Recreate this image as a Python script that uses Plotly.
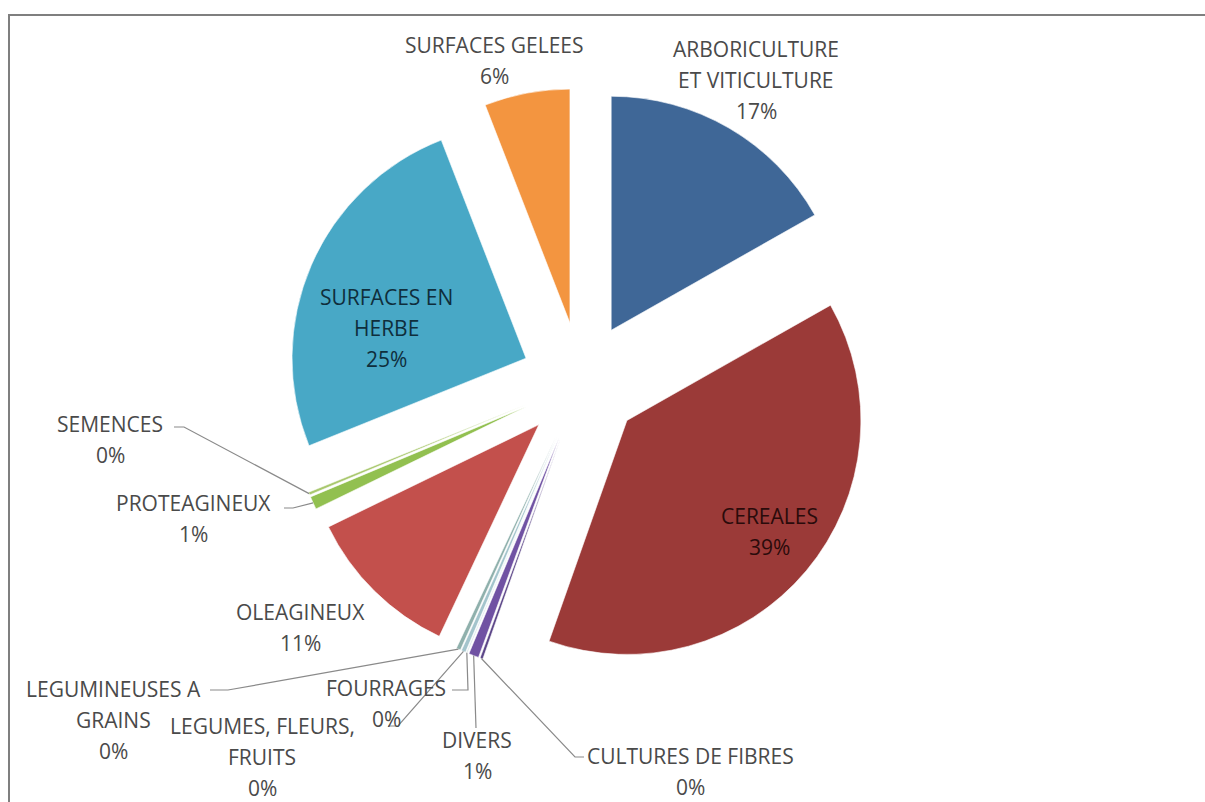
import math
import plotly.graph_objects as go

# ---- data (clockwise from 12 o'clock) ----
categories = [
    "ARBORICULTURE ET VITICULTURE", "CEREALES", "CULTURES DE FIBRES", "DIVERS",
    "FOURRAGES", "LEGUMES, FLEURS, FRUITS", "LEGUMINEUSES A GRAINS", "OLEAGINEUX",
    "PROTEAGINEUX", "SEMENCES", "SURFACES EN HERBE", "SURFACES GELEES",
]
values = [16.8, 38.6, 0.2, 0.7, 0.1, 0.3, 0.3, 10.8, 0.9, 0.2, 25.2, 5.9]
label_lines = {
    "ARBORICULTURE ET VITICULTURE": ["ARBORICULTURE", "ET VITICULTURE"],
    "CEREALES": ["CEREALES"],
    "CULTURES DE FIBRES": ["CULTURES DE FIBRES"],
    "DIVERS": ["DIVERS"],
    "FOURRAGES": ["FOURRAGES"],
    "LEGUMES, FLEURS, FRUITS": ["LEGUMES, FLEURS,", "FRUITS"],
    "LEGUMINEUSES A GRAINS": ["LEGUMINEUSES A", "GRAINS"],
    "OLEAGINEUX": ["OLEAGINEUX"],
    "PROTEAGINEUX": ["PROTEAGINEUX"],
    "SEMENCES": ["SEMENCES"],
    "SURFACES EN HERBE": ["SURFACES EN", "HERBE"],
    "SURFACES GELEES": ["SURFACES GELEES"],
}
colors = ["#3f6797", "#9b3a38", "#5c4688", "#7052a3", "#dbe8ec", "#a3c4cc",
          "#8fb0ac", "#c3504c", "#92c050", "#a9c86e", "#48a8c6", "#f39540"]

# ---- layout constants (pixels) ----
W, H = 1205, 802
CX, CY = 581, 382          # pie centre
R = 234                    # pie radius
PULL = 0.256               # explode fraction
BOX = R * (1 + PULL)       # half size of pie domain
LINE_GAP = 31
FONT = "Open Sans"
FSIZE = 21
GREY = "#4a4a4a"

# label placement: (x centre, y of first line, text colour)
label_pos = {
    "SURFACES GELEES": (494, 45, GREY),
    "ARBORICULTURE ET VITICULTURE": (756, 49, GREY),
    "SURFACES EN HERBE": (386, 297, "#0f2e3c"),
    "CEREALES": (770, 516, "#2a0b0b"),
    "SEMENCES": (110, 424, GREY),
    "PROTEAGINEUX": (193, 503, GREY),
    "OLEAGINEUX": (300, 612, GREY),
    "LEGUMINEUSES A GRAINS": (113, 689, GREY),
    "FOURRAGES": (386, 688, GREY),
    "LEGUMES, FLEURS, FRUITS": (262, 726, GREY),
    "DIVERS": (477, 740, GREY),
    "CULTURES DE FIBRES": (690, 756, GREY),
}
# leader lines: start point and elbow point near label (tip computed from data)
leaders = {
    "SEMENCES": [(174, 427), (184, 427)],
    "PROTEAGINEUX": [(284, 508), (293, 508)],
    "LEGUMINEUSES A GRAINS": [(210, 690), (228, 690)],
    "FOURRAGES": [(452, 690), (468, 690)],
    "LEGUMES, FLEURS, FRUITS": [(388, 726), (398, 726)],
    "DIVERS": [(476, 728), (476, 728)],
    "CULTURES DE FIBRES": [(584, 757), (575, 757)],
}


def px(x, y):
    return x / W, 1 - y / H


total = sum(values)
pcts = [round(v / total * 100) for v in values]

fig = go.Figure(go.Pie(
    labels=categories, values=values, sort=False, direction="clockwise",
    rotation=0, pull=[PULL] * len(values), textinfo="none", hoverinfo="label+percent",
    marker=dict(colors=colors, line=dict(color="white", width=0.6)),
    domain=dict(x=[(CX - BOX) / W, (CX + BOX) / W], y=[1 - (CY + BOX) / H, 1 - (CY - BOX) / H]),
    showlegend=False,
))

annotations = []
for cat, pct in zip(categories, pcts):
    x0, y0, col = label_pos[cat]
    lines = label_lines[cat] + [f"{pct}%"]
    for i, t in enumerate(lines):
        ax, ay = px(x0, y0 + i * LINE_GAP)
        annotations.append(dict(x=ax, y=ay, xref="paper", yref="paper", text=t,
                                showarrow=False, xanchor="center", yanchor="middle",
                                font=dict(family=FONT, size=FSIZE, color=col)))

shapes = []
cum = 0.0
for cat, v in zip(categories, values):
    mid = (cum + v / 2) / total * 2 * math.pi
    cum += v
    if cat in leaders:
        tx = CX + BOX * math.sin(mid)
        ty = CY - BOX * math.cos(mid)
        pts = leaders[cat] + [(tx, ty)]
        path = "M " + " L ".join(f"{px(a, b)[0]:.5f},{px(a, b)[1]:.5f}" for a, b in pts)
        shapes.append(dict(type="path", path=path, xref="paper", yref="paper",
                           line=dict(color="#8a8a8a", width=1.2)))

# chart frame (top and left borders visible)
shapes.append(dict(type="path", xref="paper", yref="paper",
                   path=f"M {px(9, H)[0]},{px(9, H)[1]} L {px(9, 15)[0]},{px(9, 15)[1]} L {px(W, 15)[0]},{px(W, 15)[1]}",
                   line=dict(color="#7f7f7f", width=2)))

fig.update_layout(
    width=W, height=H, margin=dict(l=0, r=0, t=0, b=0),
    paper_bgcolor="white", plot_bgcolor="white",
    annotations=annotations, shapes=shapes,
)
fig.write_html("out.html", config={"displayModeBar": False},
               post_script="document.body.style.margin='0';document.body.style.overflow='hidden';")
